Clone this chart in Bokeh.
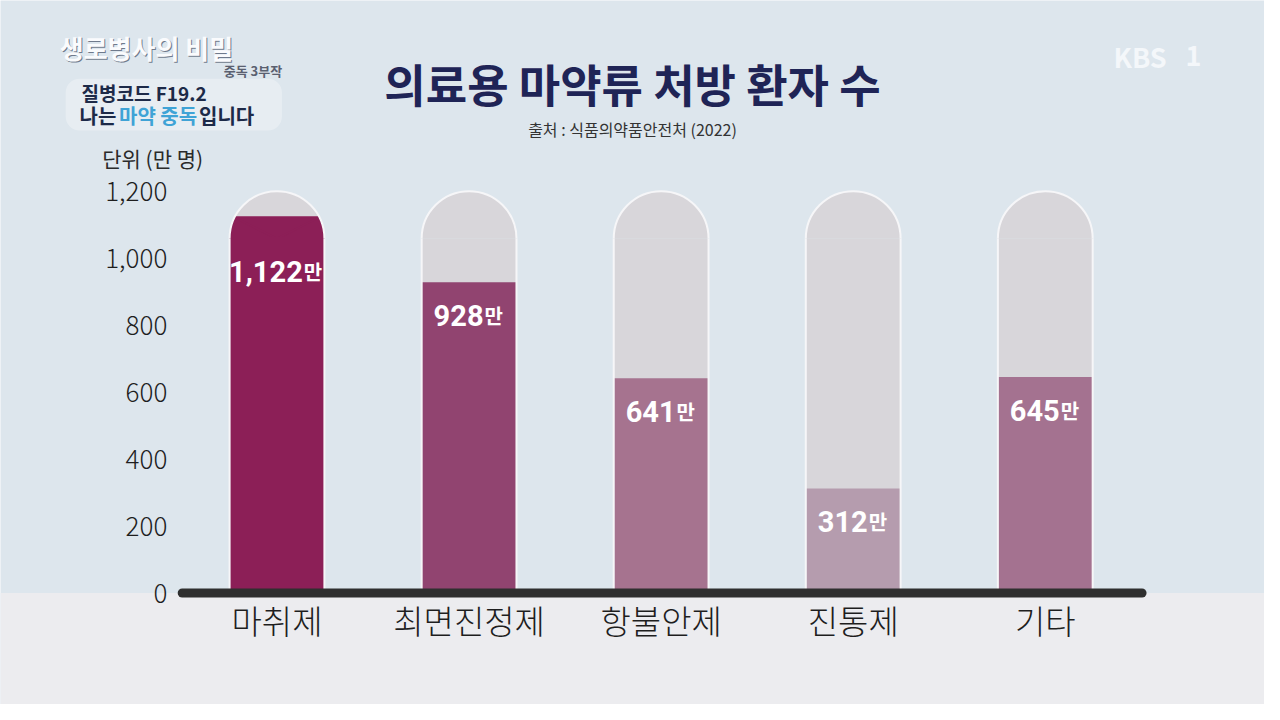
from math import pi, asin, cos
from bokeh.plotting import figure
from bokeh.models import (Range1d, FixedTicker, NumeralTickFormatter, Label,
                          BoxAnnotation, ColumnDataSource)
from bokeh.core.properties import value
from bokeh.embed import file_html
from bokeh.resources import INLINE

# ---------------- data ----------------
categories = ["마취제", "최면진정제", "항불안제", "진통제", "기타"]
patients = [1122, 928, 641, 312, 645]          # 단위: 만 명
bar_colors = ["#8C1F57", "#914470", "#A6738F", "#B59CAE", "#A47290"]
y_ticks = [0, 200, 400, 600, 800, 1000, 1200]
title_text = "의료용 마약류 처방 환자 수"
source_text = "출처 : 식품의약품안전처 (2022)"
unit_text = "단위 (만 명)"
unit_suffix = "만"

# ---------------- layout helpers (reference pixels -> data) ----------------
W, H = 1264, 704
SX, SY = W / 1280, H / 720
PX_PER_Y = 0.3425      # reference px per data unit (vertical)
Y0_IMG = 606           # reference y of value 0
PX_PER_X = 194.5       # reference px per category step
X0_IMG = 280           # reference x of first category
FX = PX_PER_X * SX     # figure px per x unit
FY = PX_PER_Y * SY     # figure px per y unit


def dx(img_x):
    return (img_x - X0_IMG) / PX_PER_X


def dy(img_y):
    return (Y0_IMG - img_y) / PX_PER_Y


p = figure(width=W, height=H,
           x_range=Range1d(dx(0), dx(1280)),
           y_range=Range1d(dy(720), dy(0)),
           output_backend="svg", toolbar_location=None,
           min_border_left=0, min_border_right=0, min_border_top=0,
           min_border_bottom=0)
p.background_fill_color = "#DDE6ED"
p.border_fill_color = "#ECECEF"
p.outline_line_color = None
p.grid.visible = False

# axes (drawn inside the frame at fixed positions)
p.xaxis.fixed_location = 0
p.xaxis.ticker = FixedTicker(ticks=list(range(len(categories))))
p.xaxis.major_label_overrides = {i: c for i, c in enumerate(categories)}
p.xaxis.axis_line_color = None
p.xaxis.major_tick_line_color = None
p.xaxis.minor_tick_line_color = None
p.xaxis.major_label_text_font = "Noto Sans CJK KR Light"
p.xaxis.major_label_text_font_size = "33px"
p.xaxis.major_label_text_color = "#1E1E1E"
p.xaxis.major_label_standoff = -3

p.yaxis.fixed_location = dx(176)
p.yaxis.ticker = FixedTicker(ticks=y_ticks)
p.yaxis.formatter = NumeralTickFormatter(format="0,0")
p.yaxis.axis_line_color = None
p.yaxis.major_tick_line_color = None
p.yaxis.minor_tick_line_color = None
p.yaxis.major_label_text_font = "Noto Sans CJK KR Light"
p.yaxis.major_label_text_font_size = "26px"
p.yaxis.major_label_text_color = "#1E1E1E"
p.yaxis.major_label_standoff = 1

# lighter floor below the baseline
p.add_layout(BoxAnnotation(top=0, fill_color="#ECECEF", fill_alpha=1.0,
                           line_color=None, level="underlay"))
# soft white glow behind the programme caption
p.add_layout(BoxAnnotation(left=dx(66), right=dx(285), top=dy(80), bottom=dy(133),
                           fill_color="#FFFFFF", fill_alpha=0.3, line_color=None,
                           border_radius=14, level="underlay"))

# ---------------- capsules ----------------
idx = list(range(len(categories)))
half_w = 48 / PX_PER_X                 # half width in x units
r_px = half_w * FX                     # dome radius in figure px
cap_max = y_ticks[-1]
cap_straight = cap_max - r_px / FY     # where the dome starts

NUM_FS, MAN_FS = 29, 20


def num_width(s):
    return sum(0.562 * NUM_FS if ch.isdigit() else 0.22 * NUM_FS for ch in s)


nums = [f"{v:,}" for v in patients]
split = [(num_width(s) - MAN_FS) / 2 for s in nums]
src = ColumnDataSource(dict(
    x=idx,
    top=[v if v <= cap_straight else cap_straight + 1.5 / FY for v in patients],
    color=bar_colors,
    num=nums, man=[unit_suffix] * len(patients),
    ly=[min(v, cap_straight) - 33 / FY for v in patients],
    off=split, off2=[s + 1 for s in split],
    xl=[i - half_w for i in idx], xr=[i + half_w for i in idx],
))

GRAY = "#D8D6DA"
EDGE = "#F6F6F8"
p.vbar(x="x", width=2 * half_w, bottom=0, top=cap_straight, source=src,
       fill_color=GRAY, line_color=None)
p.wedge(x="x", y=cap_straight, radius=half_w, start_angle=0, end_angle=pi,
        source=src, fill_color=GRAY, line_color=None)

# part of a bar that reaches into the rounded top
over = [(i, v, c) for i, v, c in zip(idx, patients, bar_colors) if v > cap_straight]
if over:
    ox, oc, gs, ge, tx, ty = [], [], [], [], [], []
    for i, v, c in over:
        d_px = min((v - cap_straight) * FY, r_px)
        a = asin(d_px / r_px)
        ox.append(i)
        oc.append(c)
        gs.append(a)
        ge.append(pi - a)
        hw = r_px * cos(a) / FX
        tx.append([i, i + hw, i - hw])
        ty.append([cap_straight, cap_straight + d_px / FY, cap_straight + d_px / FY])
    p.wedge(x=ox, y=cap_straight, radius=half_w, start_angle=0, end_angle=pi,
            fill_color=oc, line_color=None)
    p.wedge(x=ox, y=cap_straight, radius=half_w, start_angle=gs, end_angle=ge,
            fill_color=GRAY, line_color=None)
    p.patches(xs=tx, ys=ty, fill_color=oc, line_color=oc, line_width=2)

p.vbar(x="x", width=2 * half_w, bottom=0, top="top", source=src,
       fill_color="color", line_color=None)

p.arc(x="x", y=cap_straight, radius=half_w, start_angle=0, end_angle=pi,
      source=src, line_color=EDGE, line_width=2)
p.segment(x0="xl", y0=0, x1="xl", y1=cap_straight, source=src,
          line_color=EDGE, line_width=2)
p.segment(x0="xr", y0=0, x1="xr", y1=cap_straight, source=src,
          line_color=EDGE, line_width=2)

# baseline
p.segment(x0=dx(184), y0=0, x1=dx(1156), y1=0, line_width=9,
          line_color="#2F2F2F", line_cap="round")

# value labels
p.text(x="x", y="ly", text="num", source=src, x_offset="off",
       text_align="right", text_baseline="middle",
       text_font=value("Roboto"), text_font_style="bold",
       text_font_size=f"{NUM_FS}px", text_color="white")
p.text(x="x", y="ly", text="man", source=src, x_offset="off2",
       text_align="left", text_baseline="middle",
       text_font=value("Noto Sans CJK KR"), text_font_style="bold",
       text_font_size=f"{MAN_FS}px", text_color="white")


# ---------------- texts ----------------
def lab(x, y, text, size, color, bold=False, align="left", font="Noto Sans CJK KR"):
    p.add_layout(Label(x=dx(x), y=dy(y), text=text, text_font=font,
                       text_font_size=f"{size}px", text_color=color,
                       text_font_style="bold" if bold else "normal",
                       text_align=align, text_baseline="middle"))


lab(640, 85, title_text, 45, "#1F2456", bold=True, align="center")
lab(640, 131, source_text, 16, "#333333", align="center")
lab(103, 161, unit_text, 21, "#2A2A2A")

# broadcaster / programme marks
lab(1127, 57, "KBS", 27, "#F4F7FA", bold=True)
lab(1200, 57, "1", 27, "#F4F7FA", bold=True)
lab(61, 49, "생로병사의 비밀", 26, "#6F7A8C", bold=True)
lab(60, 48, "생로병사의 비밀", 26, "#FAFBFD", bold=True)
lab(226, 72, "중독 3부작", 13, "#5A6070", bold=True)
lab(82, 94, "질병코드 F19.2", 19, "#1D2A48", bold=True)
lab(80, 118, "나는", 20, "#1D2A48", bold=True)
lab(120, 118, "마약 중독", 20, "#3FA3D6", bold=True)
lab(201, 118, "입니다", 20, "#1D2A48", bold=True)

open("out.html", "w").write(file_html(p, INLINE))
